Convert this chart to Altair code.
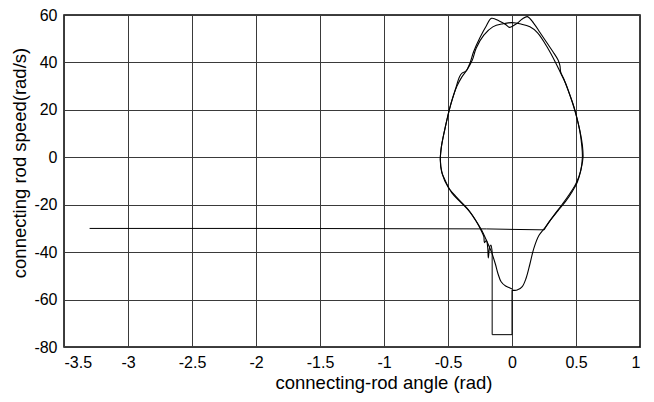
import altair as alt
import pandas as pd

# start-up transient: long horizontal line at about -30 rad/s
hline_x = [-3.3, -2.0, -1.0, -0.2, 0.0, 0.25]
hline_y = [-30.0, -30.0, -30.1, -30.2, -30.4, -30.6]

# first lap (double peak at the top, jagged near -40 on the left)
lapA_x = [0.25, 0.3, 0.36, 0.42, 0.47, 0.51, 0.54, 0.555, 0.55, 0.535, 0.51, 0.48, 0.44, 0.405,
          0.38, 0.375, 0.36, 0.32, 0.27, 0.22, 0.17, 0.12, 0.08, 0.04, 0.0, -0.02, -0.05, -0.1,
          -0.16, -0.2, -0.25, -0.3, -0.33, -0.36, -0.39, -0.41, -0.44, -0.48, -0.52, -0.55,
          -0.56, -0.55, -0.52, -0.47, -0.4, -0.33, -0.28, -0.24, -0.22, -0.215, -0.2, -0.19,
          -0.185, -0.175, -0.165, -0.155]
lapA_y = [-30.6, -26.5, -22.5, -18.5, -14.5, -10.5, -5.0, 0.0, 5.0, 10.0, 16.0, 22.0, 28.0, 33.0,
          36.0, 38.5, 41.0, 44.5, 48.5, 52.5, 56.5, 59.3, 58.3, 56.5, 55.2, 54.8, 56.0, 57.5,
          58.6, 55.5, 50.5, 44.5, 39.5, 36.3, 35.5, 34.0, 29.0, 22.0, 13.0, 5.0,
          -1.0, -6.0, -10.0, -15.0, -19.0, -23.0, -27.0, -31.0, -33.5, -36.0, -35.0, -38.0,
          -42.5, -38.0, -37.0, -40.0]

# rectangular step down to -75 rad/s
step_x = [-0.155, -0.155, 0.0, 0.0]
step_y = [-40.0, -74.8, -74.8, -56.0]

# second lap (smooth top, bottom lobe)
lapB_x = [0.0, 0.04, 0.08, 0.11, 0.14, 0.17, 0.21, 0.26, 0.32, 0.39, 0.45, 0.5, 0.535, 0.55,
          0.545, 0.53, 0.5, 0.46, 0.42, 0.38, 0.34, 0.28, 0.2, 0.14, 0.07, 0.0, -0.07, -0.15,
          -0.22, -0.28, -0.31, -0.35, -0.39, -0.43, -0.48, -0.52, -0.55, -0.56, -0.545, -0.5,
          -0.43, -0.35, -0.29, -0.24, -0.2, -0.16, -0.13, -0.11, -0.085, -0.05, -0.02, 0.0]
lapB_y = [-56.0, -56.0, -54.5, -51.0, -45.0, -38.5, -33.0, -29.5, -25.0, -20.0, -15.5, -11.0, -6.0, 0.0,
          5.0, 11.0, 18.0, 25.0, 31.0, 35.5, 40.0, 46.0, 52.5, 55.0, 56.2, 56.8, 56.3, 55.0,
          51.5, 46.0, 41.0, 37.0, 34.0, 30.0, 22.0, 13.0, 5.0, -1.0, -7.0, -12.5,
          -17.0, -21.5, -26.0, -30.5, -35.0, -40.0, -45.0, -49.0, -52.5, -54.3, -55.0, -55.5]

x_ticks = [-3.5, -3, -2.5, -2, -1.5, -1, -0.5, 0, 0.5, 1]
y_ticks = [-80, -60, -40, -20, 0, 20, 40, 60]

def frame(parts):
    rows = []
    for name, xs, ys in parts:
        for i, (a, b) in enumerate(zip(xs, ys)):
            rows.append({"seg": name, "i": i, "x": a, "y": b})
    return pd.DataFrame(rows)

straight = frame([("hline", hline_x, hline_y), ("step", step_x, step_y)])
laps = frame([("lapA", lapA_x, lapA_y), ("lapB", lapB_x, lapB_y)])

FONT = "Liberation Sans"

x_enc = alt.X("x:Q", scale=alt.Scale(domain=[-3.5, 1], nice=False, zero=False),
              axis=alt.Axis(values=x_ticks, title="connecting-rod angle (rad)",
                            labelExpr="'' + datum.value", ticks=False, labelPadding=7,
                            grid=True, gridColor="#3a3a3a", gridOpacity=1, gridWidth=1,
                            domain=False, titleX=319.5, titleY=41.5, titleAlign="center",
                            titleBaseline="alphabetic", titleAnchor="start"))
y_enc = alt.Y("y:Q", scale=alt.Scale(domain=[-80, 60], nice=False, zero=False),
              axis=alt.Axis(values=y_ticks, title="connecting rod speed(rad/s)",
                            labelExpr="'' + datum.value", ticks=False, labelPadding=7,
                            grid=True, gridColor="#3a3a3a", gridOpacity=1, gridWidth=1,
                            domain=False, titleX=-39, titleY=147.5, titleAlign="center",
                            titleBaseline="alphabetic", titleAnchor="start"))

base_straight = alt.Chart(straight).mark_line(color="black", strokeWidth=1).encode(
    x=x_enc, y=y_enc, detail="seg:N", order="i:Q")
base_laps = alt.Chart(laps).mark_line(color="black", strokeWidth=1.1,
                                      interpolate="catmull-rom").encode(
    x=x_enc, y=y_enc, detail="seg:N", order="i:Q")

chart = alt.layer(base_straight, base_laps).properties(
    width=576, height=332,
    background="white",
    autosize=alt.AutoSizeParams(type="none"),
    padding={"left": 56, "top": 7, "right": 6, "bottom": 47},
).configure_view(
    stroke="black", strokeWidth=1.5
).configure_axis(
    labelFont=FONT, titleFont=FONT, labelFontSize=16, titleFontSize=18.5,
    labelColor="black", titleColor="black", titleFontWeight="normal"
)

chart.save("out.html", embed_options={"renderer": "svg", "actions": False})
